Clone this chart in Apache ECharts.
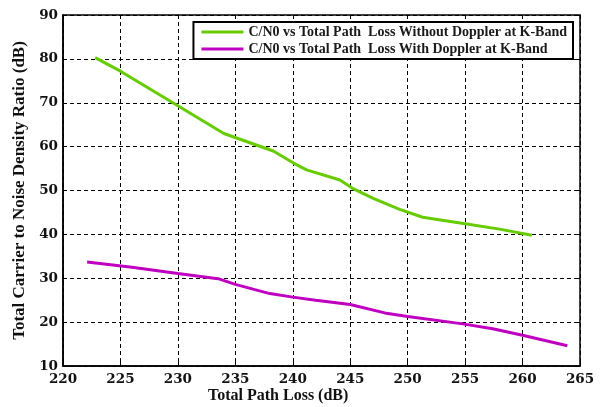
<!DOCTYPE html>
<html><head><meta charset="utf-8">
<script src="https://cdn.jsdelivr.net/npm/echarts@6/dist/echarts.min.js"></script>
<style>html,body{margin:0;padding:0;background:#fff}#c{width:603px;height:407px}</style>
</head><body><div id="c"></div>
<script>
const seriesNames = [
  'C/N0 vs Total Path  Loss Without Doppler at K-Band',
  'C/N0 vs Total Path  Loss With Doppler at K-Band'
];
const withoutDoppler = [
  [222.8,80.3],[225,77.2],[230,69.3],[234,63],[238.3,59],[240.1,56.2],[241.2,54.7],
  [244.1,52.4],[245.2,50.5],[247,48.2],[249.3,45.7],[251.3,43.9],[255,42.4],[258,41.2],[260.8,39.8]
];
const withDoppler = [
  [222.1,33.7],[226,32.5],[230,31.1],[233.5,29.9],[235,28.6],[238,26.5],[240,25.7],[242,25],
  [245,24],[248,22.1],[250,21.3],[254.8,19.6],[257.4,18.5],[260,17],[263.9,14.6]
];
const xTitle = 'Total Path Loss (dB)';
const yTitle = 'Total Carrier to Noise Density Ratio (dB)';
const font = 'Liberation Serif';
const numFont = 'DejaVu Serif';
const chart = echarts.init(document.getElementById('c'));
const gridLine = {show:true, lineStyle:{color:'#000', type:[4,3], width:1}};
chart.setOption({
  animation:false,
  backgroundColor:'#fff',
  title:{
    text:xTitle, left:208, top:388, padding:0,
    textStyle:{fontFamily:font, fontWeight:'bold', fontSize:16, color:'#111'}
  },
  grid:{left:63, right:23, top:15, bottom:41, show:true, borderColor:'#000', borderWidth:1.5},
  legend:{
    orient:'vertical', right:30, top:22, itemGap:3,
    itemWidth:42, itemHeight:3, icon:'rect',
    backgroundColor:'#fff', borderColor:'#000', borderWidth:2, borderRadius:0,
    padding:[3,6,3,8],
    textStyle:{fontFamily:font, fontWeight:'bold', fontSize:14, color:'#1a1a1a'},
    data:seriesNames
  },
  xAxis:[{
    type:'value', min:220, max:265, interval:5,
    axisLine:{show:true, lineStyle:{color:'#000', width:1.5}},
    axisTick:{show:true, inside:true, length:4, lineStyle:{color:'#000'}},
    axisLabel:{fontFamily:numFont, fontWeight:'bold', fontSize:13.5, color:'#111', margin:6},
    splitLine:gridLine
  },{
    type:'value', min:220, max:265, interval:5, position:'top',
    axisLine:{show:false}, axisLabel:{show:false}, splitLine:{show:false},
    axisTick:{show:true, inside:true, length:4, lineStyle:{color:'#000'}}
  }],
  yAxis:[{
    type:'value', min:10, max:90, interval:10,
    name:yTitle, nameLocation:'middle', nameGap:30, nameRotate:90,
    nameTextStyle:{fontFamily:font, fontWeight:'bold', fontSize:17, color:'#111'},
    axisLine:{show:true, lineStyle:{color:'#000', width:1.5}},
    axisTick:{show:true, inside:true, length:4, lineStyle:{color:'#000'}},
    axisLabel:{fontFamily:numFont, fontWeight:'bold', fontSize:13.5, color:'#111', margin:5},
    splitLine:gridLine
  },{
    type:'value', min:10, max:90, interval:10, position:'right',
    axisLine:{show:false}, axisLabel:{show:false}, splitLine:{show:false},
    axisTick:{show:true, inside:true, length:4, lineStyle:{color:'#000'}}
  }],
  series:[
    {name:seriesNames[0], type:'line', data:withoutDoppler, showSymbol:false, symbol:'none',
     lineStyle:{color:'#66cc00', width:3}, itemStyle:{color:'#66cc00'}},
    {name:seriesNames[1], type:'line', data:withDoppler, showSymbol:false, symbol:'none',
     lineStyle:{color:'#c000c0', width:3}, itemStyle:{color:'#c000c0'}}
  ]
});
</script></body></html>
